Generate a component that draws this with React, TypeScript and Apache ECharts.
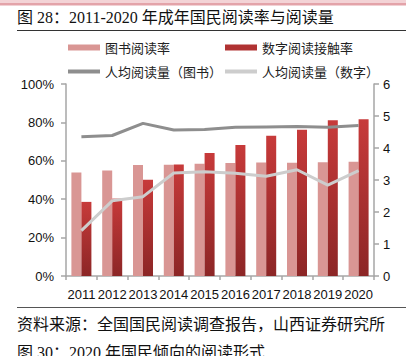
import React, { useEffect, useRef } from "react";
import * as echarts from "echarts";

const years = ["2011", "2012", "2013", "2014", "2015", "2016", "2017", "2018", "2019", "2020"];
const bookRate = [53.9, 54.9, 57.8, 58.0, 58.4, 58.8, 59.1, 59.0, 59.3, 59.5];
const digitalRate = [38.6, 40.3, 50.1, 58.1, 64.0, 68.2, 73.0, 76.2, 81.1, 81.6];
const booksPerCapita = [4.35, 4.39, 4.77, 4.56, 4.58, 4.65, 4.66, 4.67, 4.65, 4.7];
const digitalPerCapita = [1.42, 2.35, 2.48, 3.22, 3.26, 3.21, 3.12, 3.32, 2.84, 3.29];
const leftTicks = { min: 0, max: 100, interval: 20 };
const rightTicks = { min: 0, max: 6, interval: 1 };

const names = ["图书阅读率", "数字阅读接触率", "人均阅读量（图书）", "人均阅读量（数字）"];

const CJK = '"Noto Sans CJK SC", "Noto Sans", sans-serif';
const MIX = '"Liberation Serif", "Noto Sans CJK SC", serif';
const AX = '"Liberation Sans", "Noto Sans", sans-serif';

export default function App() {
  const ref = useRef<HTMLDivElement>(null);
  useEffect(() => {
    document.body.style.margin = "0";
    const chart = echarts.init(ref.current!, undefined, { renderer: "svg" });
    const legendBase = {
      orient: "horizontal",
      padding: 0,
      itemWidth: 32,
      textStyle: { fontFamily: CJK, fontSize: 13, color: "#222" },
      itemGap: 4,
    };
    chart.setOption({
      animation: false,
      backgroundColor: "#fff",
      grid: { left: 66, right: 32, top: 84, bottom: 80 },
      legend: [
        { ...legendBase, left: 68, top: 41, icon: "rect", itemHeight: 6, data: [{ name: names[0], itemStyle: { color: "#d99694" } }] },
        { ...legendBase, left: 225, top: 41, icon: "rect", itemHeight: 6, data: [{ name: names[1], itemStyle: { color: "#b03232" } }] },
        { ...legendBase, left: 68, top: 65, icon: "rect", itemHeight: 4, data: [{ name: names[2], itemStyle: { color: "#8e8e8e" } }] },
        { ...legendBase, left: 225, top: 65, icon: "rect", itemHeight: 4, data: [{ name: names[3], itemStyle: { color: "#cdcdcd" } }] },
      ],
      xAxis: {
        type: "category",
        data: years,
        axisLine: { lineStyle: { color: "#a6a6a6", width: 1.5 } },
        axisTick: { show: true, length: 4, lineStyle: { color: "#a6a6a6", width: 1.5 } },
        axisLabel: { color: "#111", fontFamily: AX, fontSize: 13, margin: 12, interval: 0 },
      },
      yAxis: [
        {
          type: "value",
          ...leftTicks,
          splitLine: { show: false },
          axisLine: { show: true, lineStyle: { color: "#a6a6a6", width: 1.5 } },
          axisTick: { show: true, length: 5, lineStyle: { color: "#a6a6a6", width: 1.5 } },
          axisLabel: { formatter: "{value}%", color: "#111", fontFamily: AX, fontSize: 13, margin: 12 },
        },
        {
          type: "value",
          ...rightTicks,
          position: "right",
          splitLine: { show: false },
          axisLine: { show: true, lineStyle: { color: "#a6a6a6", width: 1.5 } },
          axisTick: { show: true, length: 5, lineStyle: { color: "#a6a6a6", width: 1.5 } },
          axisLabel: { color: "#111", fontFamily: AX, fontSize: 13, margin: 9 },
        },
      ],
      series: [
        {
          name: names[0],
          type: "bar",
          data: bookRate,
          barWidth: 10,
          barGap: "0%",
          itemStyle: { color: "#d99694" },
        },
        {
          name: names[1],
          type: "bar",
          data: digitalRate,
          barWidth: 10,
          itemStyle: {
            color: new echarts.graphic.LinearGradient(0, 0, 0, 1, [
              { offset: 0, color: "#c73a3a" },
              { offset: 1, color: "#8c2626" },
            ]),
          },
        },
        {
          name: names[2],
          type: "line",
          yAxisIndex: 1,
          data: booksPerCapita,
          color: "#8e8e8e",
          symbol: "none",
          lineStyle: { color: "#8e8e8e", width: 3 },
          z: 5,
        },
        {
          name: names[3],
          type: "line",
          yAxisIndex: 1,
          data: digitalPerCapita,
          color: "#cdcdcd",
          symbol: "none",
          lineStyle: { color: "#cdcdcd", width: 3 },
          z: 5,
        },
      ],
      graphic: [
        { type: "rect", shape: { x: 0, y: 0, width: 406, height: 3 }, style: { fill: "#f3d3d6" } },
        { type: "rect", shape: { x: 0, y: 3, width: 406, height: 2.5 }, style: { fill: "#e3a3a9" } },
        {
          type: "text",
          x: 17,
          y: 17,
          style: { text: "图 28：2011-2020 年成年国民阅读率与阅读量", font: `16px ${MIX}`, fill: "#111", verticalAlign: "middle" },
        },
        { type: "line", shape: { x1: 17, y1: 30.5, x2: 406, y2: 30.5 }, style: { stroke: "#333", lineWidth: 1 } },
        { type: "line", shape: { x1: 17, y1: 307.5, x2: 406, y2: 307.5 }, style: { stroke: "#555", lineWidth: 1 } },
        {
          type: "text",
          x: 17,
          y: 323,
          style: { text: "资料来源：全国国民阅读调查报告，山西证券研究所", font: `16px ${CJK}`, fill: "#111", verticalAlign: "middle" },
        },
        {
          type: "text",
          x: 17,
          y: 352,
          style: { text: "图 30：2020 年国民倾向的阅读形式", font: `16px ${MIX}`, fill: "#111", verticalAlign: "middle" },
        },
      ],
    });
    return () => chart.dispose();
  }, []);
  return <div ref={ref} style={{ width: 406, height: 356 }} />;
}
